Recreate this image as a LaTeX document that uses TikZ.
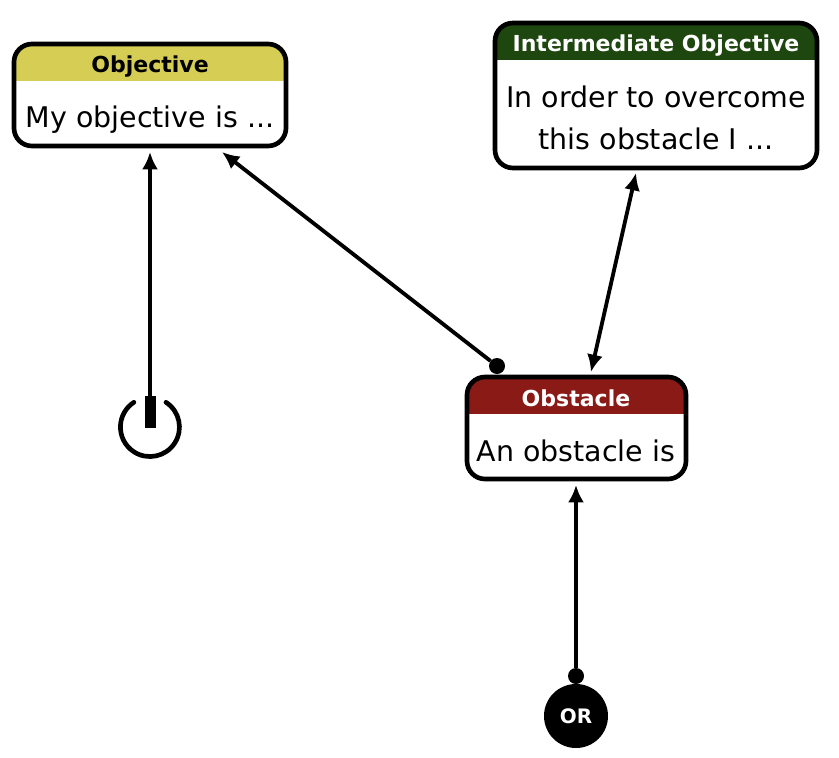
\documentclass[tikz,border=0pt]{standalone}
\usepackage{fontspec}
\setmainfont{DejaVu Sans}
\usetikzlibrary{arrows.meta}
\definecolor{paleyellow}{RGB}{214,205,85}
\definecolor{darkgreen}{RGB}{30,70,15}
\definecolor{darkred}{RGB}{138,26,22}
\tikzset{
  x=0.03cm, y=-0.03cm,
  cardbox/.style={draw=black, fill=white, rounded corners=5.4mm, line width=1.4mm,
                  outer sep=0pt, inner sep=0pt,
                  path picture={\fill[#1, sharp corners] (path picture bounding box.north west) rectangle
                                ([yshift=-11.1mm]path picture bounding box.north east);}},
  headlabel/.style={font=\fontsize{18.8}{22}\selectfont\bfseries, inner sep=0pt},
  bodylabel/.style={font=\fontsize{24.3}{35.7}\selectfont, inner sep=0pt, align=center},
  linkarrow/.style={line width=1.15mm, -{Latex[length=5.2mm,width=4.8mm]}},
  startdot/.style={circle, fill=black, minimum size=4.8mm, inner sep=0pt},
  startbar/.style={fill=black, minimum width=3.3mm, minimum height=9.6mm, inner sep=0pt},
  ornode/.style={circle, fill=black, text=white, minimum size=19.2mm, inner sep=0pt,
                 font=\fontsize{17}{20}\selectfont\bfseries}
}
\begin{document}
\begin{tikzpicture}
  \useasboundingbox (0,0) rectangle (839,758);

  % cards
  \node[cardbox=paleyellow, minimum width=81.6mm, minimum height=30.6mm] (objective) at (150,95) {};
  \node[headlabel] (objhead) at (150,67) {Objective};
  \node[bodylabel] (objbody) at (150,120) {My objective is ...};

  \node[cardbox=darkgreen, minimum width=96.6mm, minimum height=43.5mm] (intermediate) at (656,95.5) {};
  \node[headlabel, text=white] (iohead) at (656,46) {Intermediate Objective};
  \node[bodylabel] (iobody) at (656,118) {In order to overcome\\this obstacle I ...};

  \node[cardbox=darkred, minimum width=65.7mm, minimum height=30.6mm] (obstacle) at (576.5,428) {};
  \node[headlabel, text=white] (obshead) at (576,398) {Obstacle};
  \node[bodylabel] (obsbody) at (576,451) {An obstacle is};

  % free ends
  \coordinate (objbottom) at (150,152);
  \coordinate (objright) at (222,152);
  \coordinate (iobottom) at (636,173);
  \coordinate (obstop) at (591,372);
  \coordinate (obsbottom) at (576,485);

  % power symbol and OR
  \draw[line width=1.4mm, line cap=round] (166,402.3) arc[start angle=57, end angle=-237, radius=8.85mm];
  \node[startbar] (powerbar) at (150,412) {};
  \node[ornode] (ornode) at (576,716) {OR};
  \node[startdot] (ordot) at (576,676) {};
  \node[startdot] (obsdot) at (497,366) {};

  % links
  \draw[linkarrow] (powerbar.north) -- (objbottom);
  \draw[linkarrow] (obsdot) -- (objright);
  \draw[linkarrow, {Latex[length=5.2mm,width=4.8mm]}-{Latex[length=5.2mm,width=4.8mm]}] (obstop) -- (iobottom);
  \draw[linkarrow] (ordot) -- (obsbottom);
\end{tikzpicture}
\end{document}
